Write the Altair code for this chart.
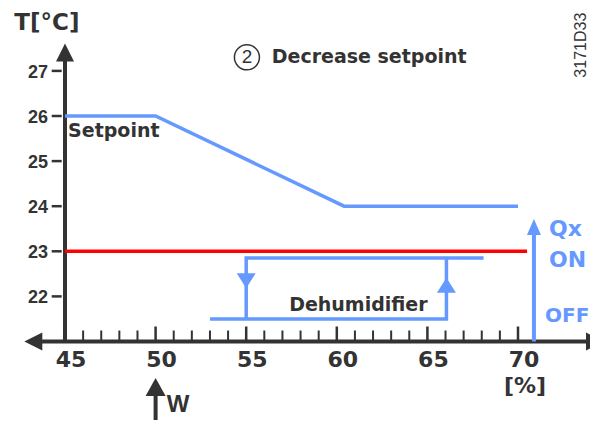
import altair as alt
import pandas as pd

BLUE = "#6699ff"
RED = "#ff0000"
INK = "#333333"
FONT = "DejaVu Sans"

# ---- data ----
setpoint_x = [45, 50, 60.4, 70]
setpoint_y = [26, 26, 24, 24]
limit_x = [45, 70.5]
limit_y = [23, 23]
off_path_x = [53, 66.05, 66.05]
off_path_y = [21.5, 21.5, 22.85]
on_path_x = [68.1, 55, 55]
on_path_y = [22.85, 22.85, 21.5]
qx_x = [70.88, 70.88]
qx_y = [21, 23.5]
w_x = [50, 50]
w_y = [19.0, 20.0]
xaxis_x = [43.25, 74.25]
xaxis_y = [21, 21]
yaxis_x = [45, 45]
yaxis_y = [21, 27.41]
y_ticks = [22, 23, 24, 25, 26, 27]
x_major = [45, 50, 55, 60, 65, 70]
x_minor = [46, 47, 48, 49, 51, 52, 53, 54, 56, 57, 58, 59,
           61, 62, 63, 64, 66, 67, 68, 69]

X_SCALE = alt.Scale(domain=[42.5166, 73.9736], nice=False, zero=False)
Y_SCALE = alt.Scale(domain=[19.2594, 28.3947], nice=False, zero=False)

UP = "M-1,1L0,-1L1,1Z"
LEFT = "M1,-1L-1,0L1,1Z"
RIGHT = "M-1,-1L1,0L-1,1Z"
QX_UP = "M-0.875,1L0,-1L0.875,1Z"
HYST_DOWN = "M-1,-0.79L0,0.79L1,-0.79Z"
HYST_UP = "M-1,0.79L0,-0.79L1,0.79Z"
W_UP = "M-1,0.9L0,-0.9L1,0.9Z"


def enc(chart):
    return chart.encode(
        x=alt.X("x:Q", scale=X_SCALE, axis=None),
        y=alt.Y("y:Q", scale=Y_SCALE, axis=None),
    )


def frame(xs, ys, labels=None):
    d = {"x": xs, "y": ys, "i": list(range(len(xs)))}
    if labels is not None:
        d["t"] = labels
    return pd.DataFrame(d)


def line(xs, ys, color, width=3.5):
    return enc(alt.Chart(frame(xs, ys)).mark_line(
        color=color, strokeWidth=width, strokeCap="butt")).encode(order="i:Q")


def arrow(xs, ys, shape, size, color):
    return enc(alt.Chart(frame(xs, ys)).mark_point(
        shape=shape, size=size, filled=True, color=color, opacity=1, strokeWidth=0))


def text(xs, ys, labels, **kw):
    return enc(alt.Chart(frame(xs, ys, labels)).mark_text(**kw)).encode(text="t:N")


layers = []

# axes
layers.append(line(xaxis_x, xaxis_y, INK, 4))
layers.append(line(yaxis_x, yaxis_y, INK, 4))
layers.append(arrow([45], [27.41], UP, 324, INK))
layers.append(arrow([43.25], [21], LEFT, 324, INK))
layers.append(arrow([74.25], [21], RIGHT, 324, INK))

# ticks
layers.append(enc(alt.Chart(frame(x_minor, [21] * len(x_minor))).mark_tick(
    orient="vertical", size=11, thickness=2, color=INK, yOffset=-5.5, opacity=1)))
layers.append(enc(alt.Chart(frame(x_major, [21] * len(x_major))).mark_tick(
    orient="vertical", size=15, thickness=2.5, color=INK, yOffset=-7.5, opacity=1)))
layers.append(enc(alt.Chart(frame([45] * len(y_ticks), y_ticks)).mark_tick(
    orient="horizontal", size=10, thickness=2.5, color=INK, xOffset=-8.3, opacity=1)))

# tick labels
layers.append(text(x_major, [21] * len(x_major), [str(v) for v in x_major],
                   font=FONT, fontSize=22, fontWeight="bold", color=INK,
                   align="center", baseline="middle", dx=6, dy=19))
layers.append(text([45] * len(y_ticks), y_ticks, [str(v) for v in y_ticks],
                   font="Liberation Sans", fontSize=18, fontWeight="bold", color=INK,
                   align="right", baseline="middle", dx=-17, dy=2))

# curves
layers.append(line(setpoint_x, setpoint_y, BLUE))
layers.append(line(limit_x, limit_y, RED))
layers.append(line(off_path_x, off_path_y, BLUE))
layers.append(line(on_path_x, on_path_y, BLUE))
layers.append(arrow([55], [22.346], HYST_DOWN, 361, BLUE))
layers.append(arrow([66.05], [22.246], HYST_UP, 361, BLUE))
layers.append(line(qx_x, qx_y, BLUE, 4))
layers.append(arrow([70.88], [23.54], QX_UP, 256, BLUE))
layers.append(line(w_x, w_y, INK, 4))
layers.append(arrow([50], [19.99], W_UP, 400, INK))

# annotations
layers.append(text([44.0], [28.06], ["T[°C]"], font=FONT, fontSize=23,
                   fontWeight="bold", color=INK, align="center", baseline="middle"))
layers.append(text([56.41], [27.30], ["Decrease setpoint"], font=FONT, fontSize=19,
                   fontWeight="bold", color=INK, align="left", baseline="middle"))
layers.append(enc(alt.Chart(frame([55.04], [27.30])).mark_point(
    shape="circle", size=625, filled=False, color=INK, strokeWidth=1.5, opacity=1)))
layers.append(text([55.04], [27.30], ["2"], font="Liberation Sans", fontSize=19,
                   color=INK, align="center", baseline="middle"))
layers.append(text([73.48], [27.57], ["3171D33"], font="Liberation Sans", fontSize=16,
                   color=INK, align="center", baseline="middle", angle=270))
layers.append(text([45.17], [25.66], ["Setpoint"], font=FONT, fontSize=19,
                   fontWeight="bold", color=INK, align="left", baseline="middle"))
layers.append(text([61.19], [21.82], ["Dehumidifier"], font=FONT, fontSize=19,
                   fontWeight="bold", color=INK, align="center", baseline="middle"))
layers.append(text([71.71, 71.71], [23.5, 22.8], ["Qx", "ON"],
                   font=FONT, fontSize=22, fontWeight="bold", color=BLUE,
                   align="left", baseline="middle"))
layers.append(text([71.49], [21.57], ["OFF"],
                   font=FONT, fontSize=20, fontWeight="bold", color=BLUE,
                   align="left", baseline="middle"))
layers.append(text([70.39], [20.01], ["[%]"], font=FONT, fontSize=22,
                   fontWeight="bold", color=INK, align="center", baseline="middle"))
layers.append(text([50.61], [19.59], ["W"], font="Liberation Sans", fontSize=24,
                   fontWeight="bold", color=INK, align="left", baseline="middle"))

chart = alt.layer(*layers).properties(
    width=570,
    height=412,
    padding={"left": 12, "top": 0, "right": 0, "bottom": 0},
    autosize=alt.AutoSizeParams(type="none"),
).configure_view(stroke=None)

chart.save("out.html", embed_options={"renderer": "svg", "actions": False})
